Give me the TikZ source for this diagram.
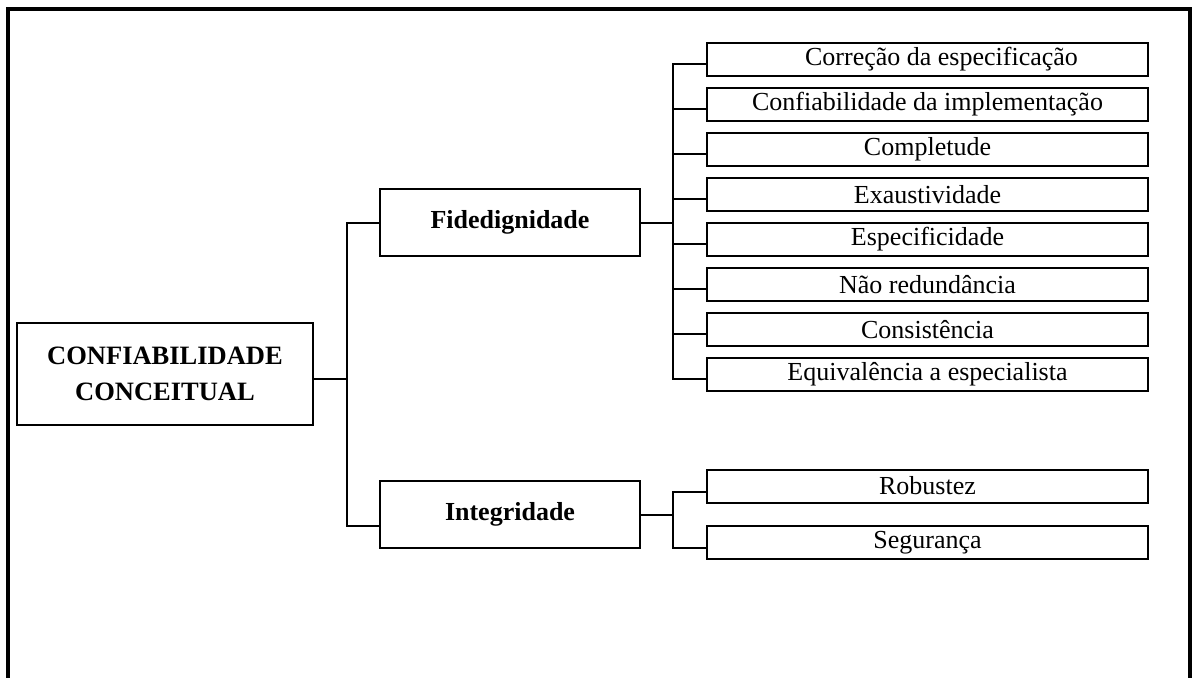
\documentclass[tikz,border=0pt]{standalone}
\usepackage{fontspec}
\setmainfont{Liberation Serif}
\begin{document}
\begin{tikzpicture}[x=1pt,y=-1pt,
  box/.style={draw,line width=2pt,inner sep=0pt,align=center,
    font=\fontsize{26}{36}\selectfont},
  rootbox/.style={box,minimum width=296pt,minimum height=102pt,font=\fontsize{26.5}{36}\selectfont\bfseries},
  midbox/.style={box,minimum width=260pt,minimum height=67pt,font=\fontsize{26}{36}\selectfont\bfseries},
  leafbox/.style={box,minimum width=441pt,minimum height=33pt},
  link/.style={line width=2pt}]
\useasboundingbox (0,0) rectangle (1196,677);
% page frame, open at the bottom
\draw[line width=3.5pt] (8,680) -- (8,9) -- (1190,9) -- (1190,680);

% main concept
\node[rootbox] (root) at (165,374) {CONFIABILIDADE\\CONCEITUAL};

% two dimensions
\node[midbox] (fid) at (510,222.5) {Fidedignidade};
\node[midbox] (integ) at (510,514.5) {Integridade};

% criteria of Fidedignidade
\foreach \t [count=\i] in {\hspace*{28pt}Correção da especificação,Confiabilidade da implementação,Completude,Exaustividade,Especificidade,Não redundância,Consistência,Equivalência a especialista}
  \node[leafbox] (c\i) at (927.5,{59.5+44.93*(\i-1)}) {\t};

% criteria of Integridade
\node[leafbox] (r1) at (927.5,486) {Robustez};
\node[leafbox] (r2) at (927.5,542.5) {Segurança};

% bus lines
\coordinate (busL) at (347,0);
\coordinate (busR) at (673,0);

\draw[link] ([yshift=-5pt]root.east) -- ([yshift=-5pt]root.east -| busL);
\draw[link] (fid.west) -- (fid.west -| busL)
  -- ([yshift=-11.5pt]integ.west -| busL) -- ([yshift=-11.5pt]integ.west);

\draw[link] (fid.east) -- (fid.east -| busR);
\draw[link] ([yshift=-5pt]c1.west) -- ([yshift=-5pt]c1.west -| busR)
  -- ([yshift=-5pt]c8.west -| busR) -- ([yshift=-5pt]c8.west);
\foreach \i in {2,...,7}
  \draw[link] ([yshift=-5pt]c\i.west) -- ([yshift=-5pt]c\i.west -| busR);

\draw[link] (integ.east) -- (integ.east -| busR);
\draw[link] ([yshift=-6pt]r1.west) -- ([yshift=-6pt]r1.west -| busR)
  -- ([yshift=-5.5pt]r2.west -| busR) -- ([yshift=-5.5pt]r2.west);
\end{tikzpicture}
\end{document}
